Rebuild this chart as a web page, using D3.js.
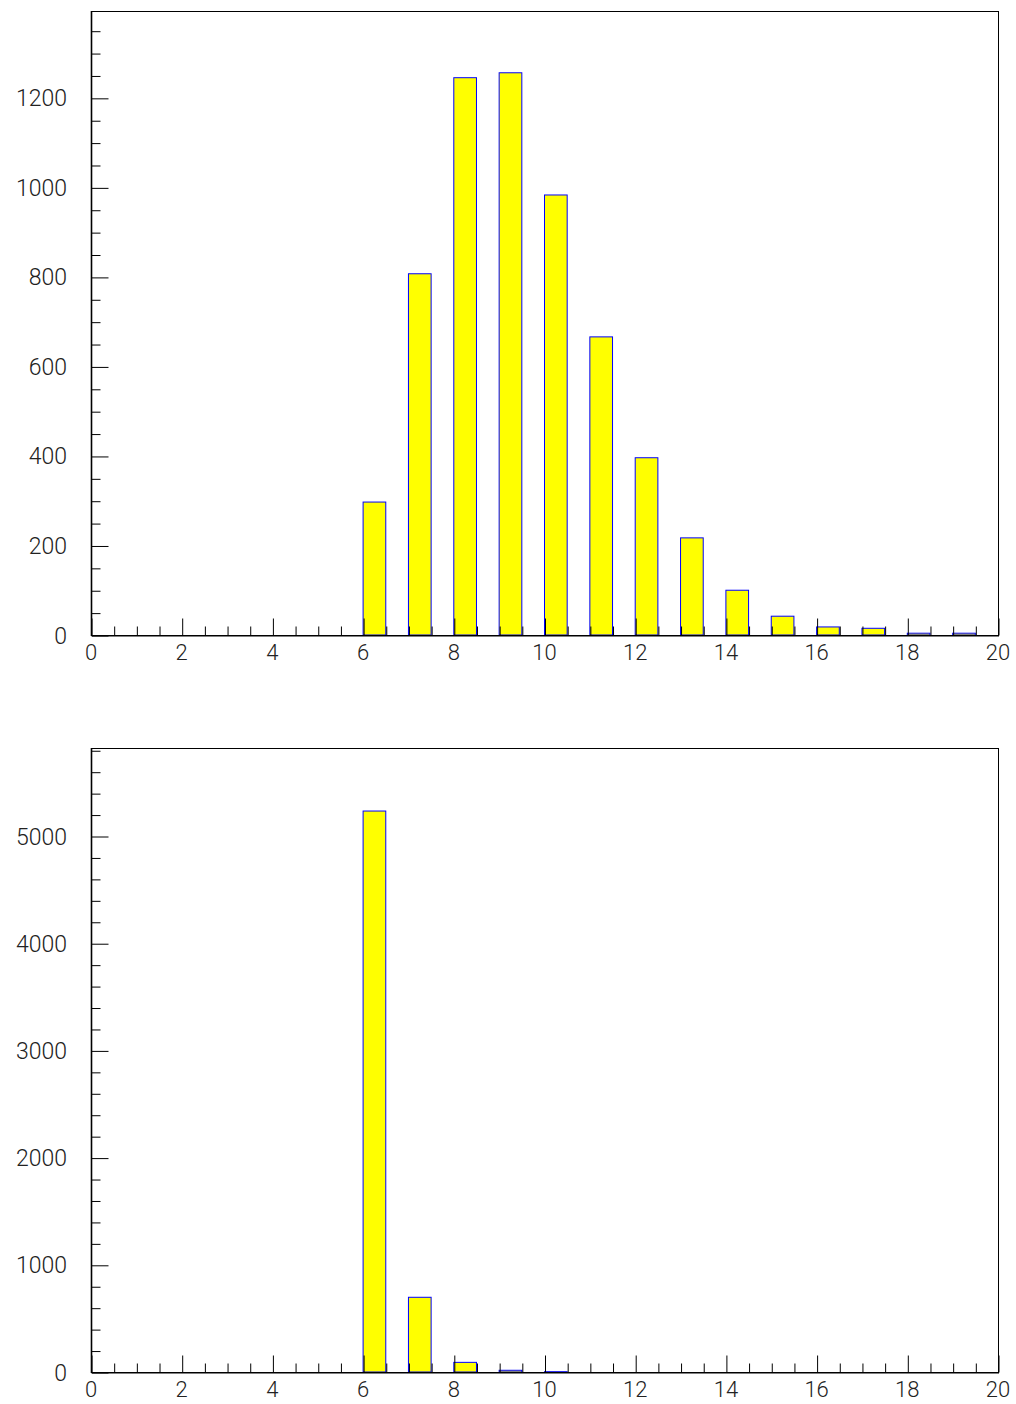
<!DOCTYPE html>
<html>
<head>
<meta charset="utf-8">
<script src="https://cdn.jsdelivr.net/npm/d3@7"></script>
<style>
  html, body { margin: 0; padding: 0; background: #fff; }
  svg { display: block; }
  .lbl { font-family: Roboto, "Liberation Sans", sans-serif; font-weight: 300; font-size: 23px; fill: #222; }
  .xl { font-size: 22px; }
</style>
</head>
<body>
<svg id="chart" width="1016" height="1404"></svg>
<script>
// Bin low edges (width 1) on the 0..20 axis
const binEdges = [0,1,2,3,4,5,6,7,8,9,10,11,12,13,14,15,16,17,18,19];
// Entries per bin, upper histogram
const upperCounts = [0,0,0,0,0,0,297,807,1245,1256,983,666,396,217,100,42,18,15,4,4];
// Entries per bin, lower histogram
const lowerCounts = [0,0,0,0,0,0,5233,697,90,16,3,0,0,0,0,0,0,0,0,0];

// Axis tick labels
const xTickLabels = [0,2,4,6,8,10,12,14,16,18,20];
const upperYTickLabels = [0,200,400,600,800,1000,1200];
const lowerYTickLabels = [0,1000,2000,3000,4000,5000];

const svg = d3.select("#chart");
const X0 = 91, X1 = 998;
const x = d3.scaleLinear().domain([0, 20]).range([X0, X1]);
const barWidth = 0.5;   // fraction of bin width filled, starting at the low edge

function panel(top, bottom, counts, yMax, yMajor, yMinorStep, yLabels) {
  const y = d3.scaleLinear().domain([0, yMax]).range([bottom, top]);
  const g = svg.append("g");

  // bars
  g.selectAll("rect.bar").data(binEdges).join("rect")
    .attr("class", "bar")
    .attr("x", d => x(d))
    .attr("width", d => x(d + barWidth) - x(d))
    .attr("y", (d, i) => y(counts[i]))
    .attr("height", (d, i) => y(0) - y(counts[i]))
    .attr("fill", "#ffff00")
    .attr("stroke", "#0000ff")
    .attr("stroke-width", 1);

  // frame
  g.append("rect")
    .attr("x", X0 + 0.5).attr("y", top + 0.5)
    .attr("width", X1 - X0).attr("height", bottom - top)
    .attr("fill", "none").attr("stroke", "#000").attr("stroke-width", 1);
  g.append("line")
    .attr("x1", X0 + 0.5).attr("x2", X0 + 0.5).attr("y1", top).attr("y2", bottom + 1)
    .attr("stroke", "#000").attr("stroke-width", 1.6);

  // x axis: major ticks every 2, minor every 0.5
  const xMinor = d3.range(0, 20.001, 0.5);
  const xAxis = d3.axisTop(x)
    .tickValues(xMinor)
    .tickSize(0)
    .tickFormat("");
  const gx = g.append("g").attr("transform", `translate(0.5,${bottom + 0.5})`).call(xAxis);
  gx.select(".domain").attr("stroke", "#000");
  gx.selectAll(".tick line")
    .attr("y2", d => (Math.abs(d % 2) < 1e-9 ? -17 : -9))
    .attr("stroke", "#000");

  g.selectAll("text.xl").data(xTickLabels).join("text")
    .attr("class", "lbl xl")
    .attr("x", d => x(d))
    .attr("y", bottom + 25)
    .attr("text-anchor", "middle")
    .text(d => d);

  // y axis: major ticks at labels, minor ticks at yMinorStep
  const yMinor = d3.range(0, yMax, yMinorStep);
  const yAxis = d3.axisRight(y).tickValues(yMinor).tickSize(0).tickFormat("");
  const gy = g.append("g").attr("transform", `translate(${X0 + 0.5},0.5)`).call(yAxis);
  gy.select(".domain").remove();
  gy.selectAll(".tick line")
    .attr("x2", d => (Math.abs(d % yMajor) < 1e-9 ? 17 : 9))
    .attr("stroke", "#000");

  g.selectAll("text.yl").data(yLabels).join("text")
    .attr("class", "lbl yl")
    .attr("x", X0 - 24)
    .attr("y", d => y(d) + 1)
    .attr("text-anchor", "end")
    .attr("dominant-baseline", "central")
    .text(d => d);
}

panel(11, 635, upperCounts, 1394, 200, 50, upperYTickLabels);
panel(748, 1372, lowerCounts, 5821, 1000, 200, lowerYTickLabels);
</script>
</body>
</html>
